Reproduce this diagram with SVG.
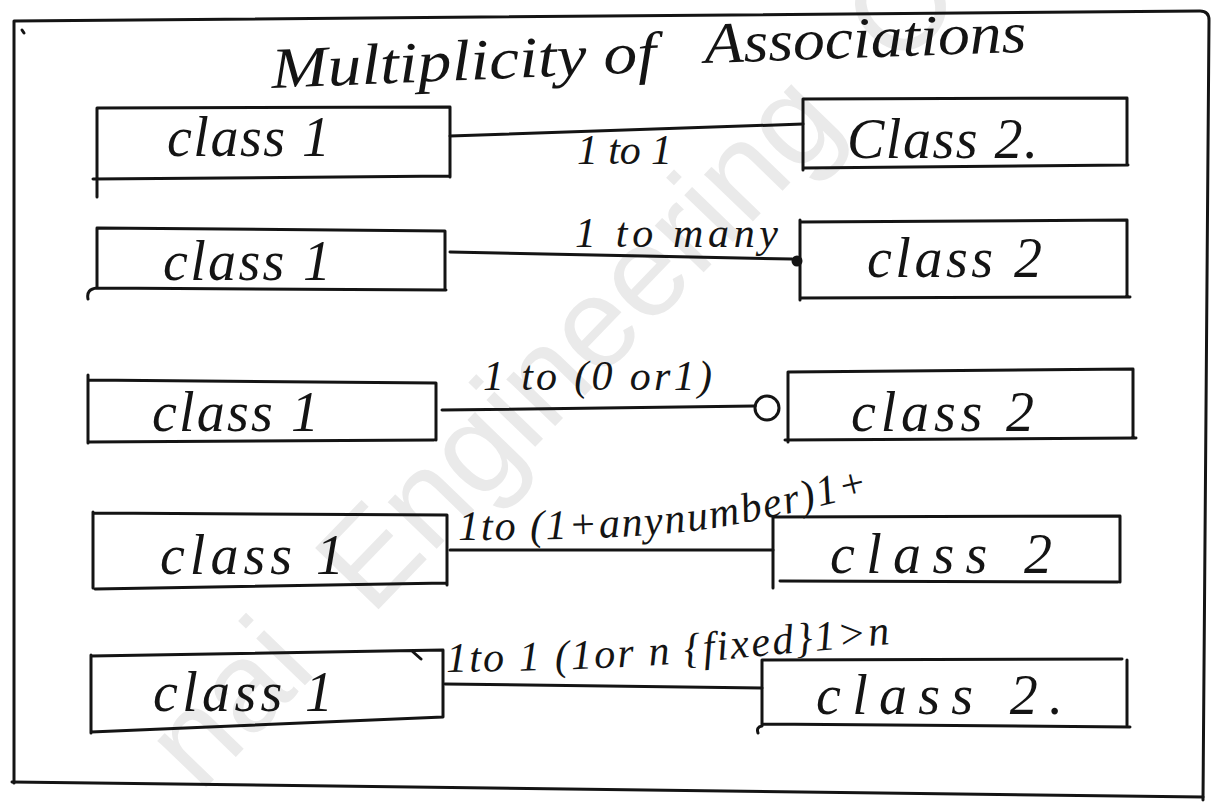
<svg xmlns="http://www.w3.org/2000/svg" width="1220" height="805" viewBox="0 0 1220 805">
  <defs>
    <style>
      .ink { fill: none; stroke: #141414; stroke-width: 3; stroke-linecap: round; stroke-linejoin: round; }
      .hand { font-family: "Liberation Serif", "DejaVu Serif", serif; font-style: italic; fill: #141414; }
      .cls { font-size: 56px; }
      .lbl { font-size: 42px; }
      .title { font-size: 58px; }
      .mark { font-family: "Liberation Sans", Arial, sans-serif; font-size: 128px; fill: #eaeaea; word-spacing: 40px; }
    </style>
    <path id="p4" d="M458,540 C560,540 640,538 700,530 S820,506 878,492"/>
    <path id="p5" d="M446,672 C560,671 660,666 720,660 S850,648 892,644"/>
  </defs>

  <rect width="1220" height="805" fill="#ffffff"/>

  <!-- faint background stamp -->
  <text class="mark" x="200" y="794" transform="rotate(-46 200 794)">nai Engineering C</text>

  <!-- page frame -->
  <g id="frame">
    <path class="ink" d="M14,783 L14,21 L1200,11 Q1209,11 1209,20 L1203,800"/>
    <path class="ink" d="M12,782 L1203,797"/>
    <path class="ink" d="M22,30 l2,3" stroke-width="2"/>
  </g>

  <g id="title">
    <text class="hand title" x="272" y="88" textLength="385" lengthAdjust="spacingAndGlyphs" transform="rotate(-2.4 272 88)">Multiplicity of</text>
    <text class="hand title" x="705" y="63" textLength="322" lengthAdjust="spacingAndGlyphs" transform="rotate(-2 705 63)">Associations</text>
  </g>

  <!-- association lines with their end symbols and multiplicity labels -->
  <g id="connectors">
    <path class="ink" d="M450,136 L803,124"/>
    <text class="hand lbl" x="577" y="164" textLength="95" lengthAdjust="spacing">1 to 1</text>

    <path class="ink" d="M450,252 L792,259"/>
    <circle cx="797" cy="261" r="5.5" fill="#141414"/>
    <text class="hand lbl" x="575" y="247" font-size="46" textLength="203" lengthAdjust="spacing">1 to many</text>

    <path class="ink" d="M442,410 L755,406"/>
    <circle class="ink" cx="767" cy="408" r="12"/>
    <text class="hand lbl" x="483" y="390" textLength="229" lengthAdjust="spacing">1 to (0 or1)</text>

    <path class="ink" d="M450,550 L773,550"/>
    <text class="hand lbl" font-size="37"><textPath href="#p4" textLength="415" lengthAdjust="spacing">1to (1+anynumber)1+</textPath></text>

    <path class="ink" d="M445,684 L762,688"/>
    <text class="hand lbl" font-size="37"><textPath href="#p5" textLength="445" lengthAdjust="spacing">1to 1 (1or n {fixed}1&gt;n</textPath></text>
  </g>

  <!-- row 1 -->
  <g id="r1-class1">
    <path class="ink" d="M97,197 L97,108 L450,107 L450,177 M450,176 L93,179"/>
    <text class="hand cls" x="167" y="156" textLength="163" lengthAdjust="spacing">class 1</text>
  </g>
  <g id="r1-class2">
    <path class="ink" d="M803,170 L803,99 L1127,98 L1127,165 M1128,165 L803,168"/>
    <text class="hand cls" x="847" y="158" textLength="191" lengthAdjust="spacing">Class 2.</text>
  </g>

  <!-- row 2 -->
  <g id="r2-class1">
    <path class="ink" d="M97,228 L445,231 L445,290 M446,290 L97,288 L97,228 M97,288 Q86,289 88,299"/>
    <text class="hand cls" x="163" y="280" textLength="168" lengthAdjust="spacing">class 1</text>
  </g>
  <g id="r2-class2">
    <path class="ink" d="M800,220 L800,300 M800,222 L1127,220 L1127,296 M800,298 L1130,297"/>
    <text class="hand cls" x="867" y="277" textLength="175" lengthAdjust="spacing">class 2</text>
  </g>

  <!-- row 3 -->
  <g id="r3-class1">
    <path class="ink" d="M88,375 L88,443 M88,380 L436,383 L436,440 M434,440 L88,442"/>
    <text class="hand cls" x="152" y="431" textLength="167" lengthAdjust="spacing">class 1</text>
  </g>
  <g id="r3-class2">
    <path class="ink" d="M788,372 L788,442 M788,372 L1133,369 L1133,438 M785,440 L1136,438"/>
    <text class="hand cls" x="851" y="431" textLength="183" lengthAdjust="spacing">class 2</text>
  </g>

  <!-- row 4 -->
  <g id="r4-class1">
    <path class="ink" d="M93,512 L93,588 M93,513 L447,515 L447,585 M447,583 L95,589"/>
    <text class="hand cls" x="160" y="574" textLength="184" lengthAdjust="spacing">class 1</text>
  </g>
  <g id="r4-class2">
    <path class="ink" d="M773,517 L773,588 M773,517 L1120,516 L1120,582 M780,581 L1118,582"/>
    <text class="hand cls" x="830" y="573" textLength="222" lengthAdjust="spacing">class  2</text>
  </g>

  <!-- row 5 -->
  <g id="r5-class1">
    <path class="ink" d="M91,655 L91,733 M91,656 L443,650 L443,717 L91,732 M412,651 L421,659"/>
    <text class="hand cls" x="153" y="711" textLength="180" lengthAdjust="spacing">class 1</text>
  </g>
  <g id="r5-class2">
    <path class="ink" d="M762,660 L762,726 Q756,727 758,733 M762,660 L1122,659 M1127,660 L1127,725 M762,724 L1130,727"/>
    <text class="hand cls" x="816" y="714" textLength="247" lengthAdjust="spacing">class  2.</text>
  </g>
</svg>
